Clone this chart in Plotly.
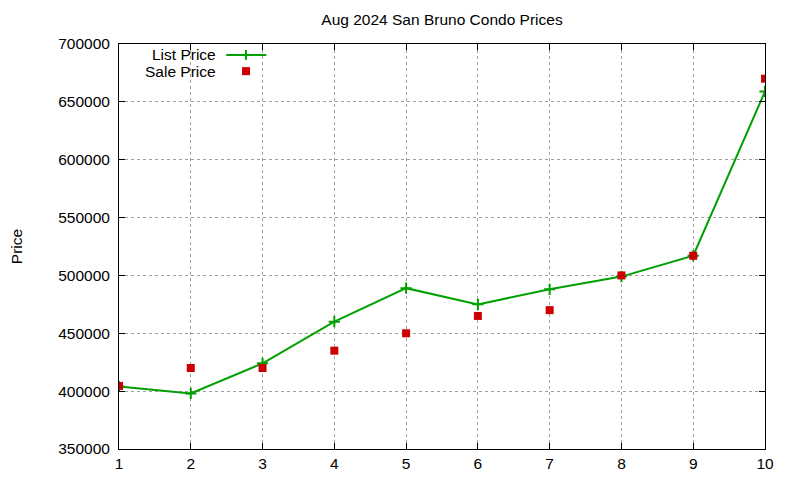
import plotly.graph_objects as go

# Aug 2024 San Bruno condo prices
sale_index = [1, 2, 3, 4, 5, 6, 7, 8, 9, 10]
list_price = [404000, 398000, 424000, 460000, 489000, 475000, 488000, 499000, 517000, 659000]
sale_price = [404500, 420000, 420000, 435000, 450000, 465000, 470000, 500000, 517000, 670000]

font = "Liberation Sans, Arial, sans-serif"
green = "#00a000"
red = "#cc0000"

fig = go.Figure()
fig.add_trace(go.Scatter(
    x=sale_index, y=list_price, mode="lines+markers", name="List Price",
    line=dict(color=green, width=2),
    marker=dict(symbol="cross-thin", size=8, line=dict(color=green, width=2)),
    showlegend=False,
))
fig.add_trace(go.Scatter(
    x=sale_index, y=sale_price, mode="markers", name="Sale Price",
    marker=dict(symbol="square", size=8, color=red),
    showlegend=False,
))

# gnuplot-style key: text right aligned, sample to the right
fig.add_annotation(xref="paper", yref="paper", x=0.153, y=0.973, text="List Price",
                   showarrow=False, xanchor="right", yanchor="middle",
                   font=dict(family=font, size=15.5, color="#000"))
fig.add_annotation(xref="paper", yref="paper", x=0.153, y=0.933, text="Sale Price",
                   showarrow=False, xanchor="right", yanchor="middle",
                   font=dict(family=font, size=15.5, color="#000"))
fig.add_shape(type="line", xref="paper", yref="paper", x0=0.166, x1=0.228, y0=0.973, y1=0.973,
              line=dict(color=green, width=2))
fig.add_shape(type="line", xref="paper", yref="paper", x0=0.1966, x1=0.1966, y0=0.961, y1=0.985,
              line=dict(color=green, width=2))
fig.add_shape(type="rect", xref="paper", yref="paper", x0=0.1905, x1=0.2028, y0=0.923, y1=0.943,
              line=dict(width=0), fillcolor=red)

axis_common = dict(
    showline=True, linecolor="#000", linewidth=1, mirror="allticks",
    ticks="inside", ticklen=6, tickcolor="#000", automargin=False,
    showgrid=True, gridcolor="#a0a0a0", griddash="dot", gridwidth=1,
    zeroline=False, tickfont=dict(family=font, size=15.5, color="#000"),
)

fig.update_layout(
    width=800, height=480,
    plot_bgcolor="white", paper_bgcolor="white",
    margin=dict(l=111, r=43, t=36, b=39),
    title=dict(text="Aug 2024 San Bruno Condo Prices", x=0.5425, xanchor="center",
               y=0.975, yanchor="middle",
               font=dict(family=font, size=15.5, color="#000")),
    xaxis=dict(range=[1, 10], dtick=1, **axis_common),
    yaxis=dict(range=[350000, 700000], dtick=50000, tickformat="d", ticklabelstandoff=5,
               title=dict(text="Price", standoff=54,
                          font=dict(family=font, size=15.5, color="#000")),
               **axis_common),
)

fig.write_html("out.html")
